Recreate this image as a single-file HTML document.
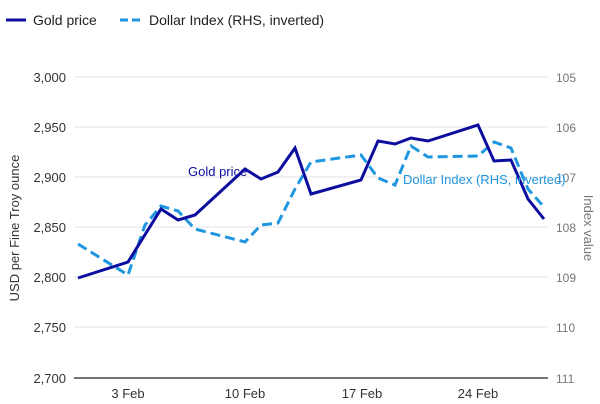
<!DOCTYPE html>
<html><head><style>body{margin:0;background:#fff}svg{display:block;font-family:"Liberation Sans",sans-serif}</style></head><body>
<svg width="600" height="404" viewBox="0 0 600 404">
<g stroke="#e6e6e6" stroke-width="1">
<line x1="74" x2="548" y1="77" y2="77"/><line x1="74" x2="548" y1="127" y2="127"/><line x1="74" x2="548" y1="177" y2="177"/><line x1="74" x2="548" y1="227" y2="227"/><line x1="74" x2="548" y1="277" y2="277"/><line x1="74" x2="548" y1="327" y2="327"/>
</g>
<line x1="74" x2="548" y1="378" y2="378" stroke="#222" stroke-width="1.2"/>
<g font-size="13" fill="#333" text-anchor="end">
<text x="66" y="82">3,000</text><text x="66" y="132">2,950</text><text x="66" y="182">2,900</text><text x="66" y="232">2,850</text><text x="66" y="282">2,800</text><text x="66" y="332">2,750</text><text x="66" y="383">2,700</text>
</g>
<g font-size="12" fill="#777">
<text x="556" y="82">105</text><text x="556" y="132">106</text><text x="556" y="182">107</text><text x="556" y="232">108</text><text x="556" y="282">109</text><text x="556" y="332">110</text><text x="556" y="383">111</text>
</g>
<g font-size="13" fill="#333" text-anchor="middle">
<text x="128" y="398">3 Feb</text><text x="245" y="398">10 Feb</text><text x="362" y="398">17 Feb</text><text x="478" y="398">24 Feb</text>
</g>
<text transform="translate(19,228) rotate(-90)" font-size="13" fill="#333" text-anchor="middle">USD per Fine Troy ounce</text>
<text transform="translate(584,228) rotate(90)" font-size="13" fill="#777" text-anchor="middle">Index value</text>
<polyline fill="none" stroke="#2196e0" stroke-width="3" stroke-dasharray="10,5" points="78,244 128,275 145,225 161,206 178,211 195,229 245,242 261,225 278,223 295,189 311,162 361,155 378,178 395,185 411,146 428,157 478,156 494,142 511,148 528,189 544,207"/>
<polyline fill="none" stroke="#0d0da0" stroke-width="3" points="78,278 128,262 161,209 178,220 195,215 245,169 261,179 278,172 295,148 311,194 361,180 378,141 395,144 411,138 428,141 478,125 494,161 511,160 528,199 544,219"/>
<text x="188" y="176" font-size="13" fill="#0d0da0">Gold price</text>
<text x="403" y="184" font-size="13" fill="#2196e0">Dollar Index (RHS, inverted)</text>
<line x1="6" x2="26" y1="20" y2="20" stroke="#0d0da0" stroke-width="3"/>
<text x="33" y="25" font-size="14" fill="#222">Gold price</text>
<line x1="120" x2="142" y1="20" y2="20" stroke="#2196e0" stroke-width="3" stroke-dasharray="8,4"/>
<text x="149" y="25" font-size="14" fill="#222">Dollar Index (RHS, inverted)</text>
</svg>
</body></html>
